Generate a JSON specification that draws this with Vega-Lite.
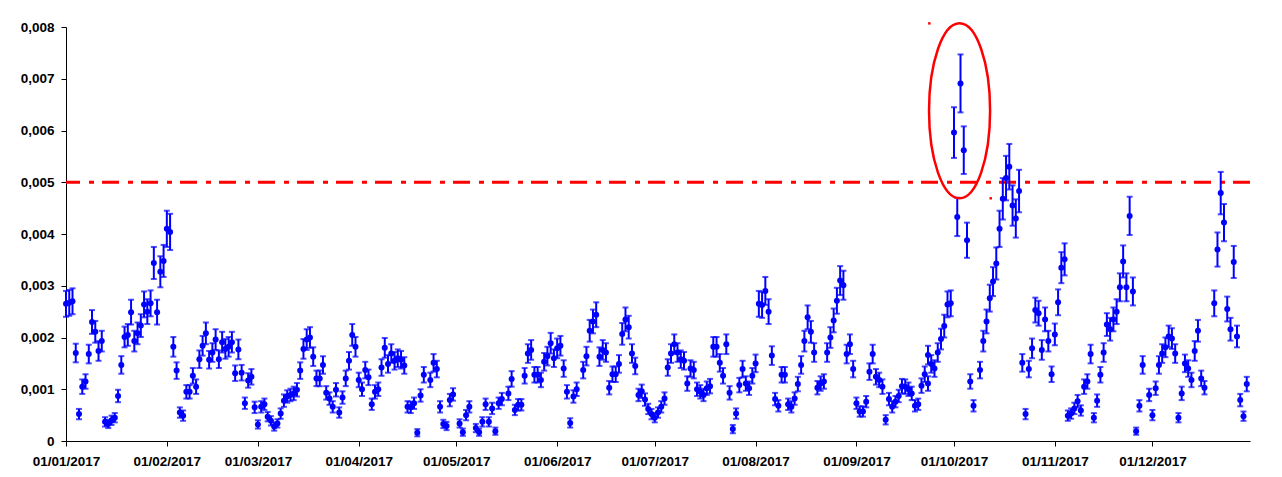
{
  "$schema": "https://vega.github.io/schema/vega-lite/v6.json",
  "width": 1184,
  "height": 414,
  "autosize": {"type": "none"},
  "padding": {"left": 66, "top": 27, "right": 32, "bottom": 36},
  "background": "white",
  "config": {
    "view": {"stroke": null},
    "axis": {
      "grid": false,
      "labelFont": "Liberation Sans",
      "labelFontWeight": "bold",
      "labelFontSize": 13.5,
      "labelColor": "#000000",
      "domainColor": "#000000",
      "domainWidth": 1,
      "tickColor": "#000000",
      "tickWidth": 1,
      "tickSize": 5
    },
    "axisX": {
      "labelExpr": "utcFormat(datum.value, '%d/%m/%Y')",
      "labelPadding": 8,
      "labelOverlap": false,
      "labelFlush": false
    }
  },
  "datasets": {
    "obs": [
      {"d":"2017-01-01","v":0.00265,"e":0.00025},
      {"d":"2017-01-02","v":0.00267,"e":0.00025},
      {"d":"2017-01-03","v":0.00270,"e":0.00025},
      {"d":"2017-01-04","v":0.00170,"e":0.00018},
      {"d":"2017-01-05","v":0.00052,"e":0.00010},
      {"d":"2017-01-06","v":0.00105,"e":0.00014},
      {"d":"2017-01-07","v":0.00115,"e":0.00014},
      {"d":"2017-01-08","v":0.00168,"e":0.00018},
      {"d":"2017-01-09","v":0.00230,"e":0.00023},
      {"d":"2017-01-10","v":0.00211,"e":0.00021},
      {"d":"2017-01-11","v":0.00174,"e":0.00019},
      {"d":"2017-01-12","v":0.00193,"e":0.00020},
      {"d":"2017-01-13","v":0.00037,"e":0.00009},
      {"d":"2017-01-14","v":0.00033,"e":0.00008},
      {"d":"2017-01-15","v":0.00040,"e":0.00009},
      {"d":"2017-01-16","v":0.00045,"e":0.00009},
      {"d":"2017-01-17","v":0.00087,"e":0.00012},
      {"d":"2017-01-18","v":0.00147,"e":0.00017},
      {"d":"2017-01-19","v":0.00201,"e":0.00020},
      {"d":"2017-01-20","v":0.00205,"e":0.00021},
      {"d":"2017-01-21","v":0.00249,"e":0.00024},
      {"d":"2017-01-22","v":0.00193,"e":0.00020},
      {"d":"2017-01-23","v":0.00208,"e":0.00021},
      {"d":"2017-01-24","v":0.00223,"e":0.00022},
      {"d":"2017-01-25","v":0.00264,"e":0.00025},
      {"d":"2017-01-26","v":0.00250,"e":0.00024},
      {"d":"2017-01-27","v":0.00266,"e":0.00025},
      {"d":"2017-01-28","v":0.00344,"e":0.00031},
      {"d":"2017-01-29","v":0.00249,"e":0.00024},
      {"d":"2017-01-30","v":0.00327,"e":0.00030},
      {"d":"2017-01-31","v":0.00348,"e":0.00031},
      {"d":"2017-02-01","v":0.00410,"e":0.00035},
      {"d":"2017-02-02","v":0.00404,"e":0.00035},
      {"d":"2017-02-03","v":0.00182,"e":0.00019},
      {"d":"2017-02-04","v":0.00136,"e":0.00016},
      {"d":"2017-02-05","v":0.00055,"e":0.00010},
      {"d":"2017-02-06","v":0.00049,"e":0.00010},
      {"d":"2017-02-07","v":0.00095,"e":0.00013},
      {"d":"2017-02-08","v":0.00095,"e":0.00013},
      {"d":"2017-02-09","v":0.00126,"e":0.00015},
      {"d":"2017-02-10","v":0.00105,"e":0.00014},
      {"d":"2017-02-11","v":0.00158,"e":0.00017},
      {"d":"2017-02-12","v":0.00184,"e":0.00019},
      {"d":"2017-02-13","v":0.00208,"e":0.00021},
      {"d":"2017-02-14","v":0.00157,"e":0.00017},
      {"d":"2017-02-15","v":0.00171,"e":0.00018},
      {"d":"2017-02-16","v":0.00196,"e":0.00020},
      {"d":"2017-02-17","v":0.00158,"e":0.00017},
      {"d":"2017-02-18","v":0.00191,"e":0.00020},
      {"d":"2017-02-19","v":0.00178,"e":0.00019},
      {"d":"2017-02-20","v":0.00182,"e":0.00019},
      {"d":"2017-02-21","v":0.00191,"e":0.00020},
      {"d":"2017-02-22","v":0.00131,"e":0.00015},
      {"d":"2017-02-23","v":0.00177,"e":0.00019},
      {"d":"2017-02-24","v":0.00132,"e":0.00015},
      {"d":"2017-02-25","v":0.00073,"e":0.00011},
      {"d":"2017-02-26","v":0.00117,"e":0.00014},
      {"d":"2017-02-27","v":0.00124,"e":0.00015},
      {"d":"2017-02-28","v":0.00065,"e":0.00011},
      {"d":"2017-03-01","v":0.00032,"e":0.00008},
      {"d":"2017-03-02","v":0.00066,"e":0.00011},
      {"d":"2017-03-03","v":0.00071,"e":0.00011},
      {"d":"2017-03-04","v":0.00047,"e":0.00009},
      {"d":"2017-03-05","v":0.00039,"e":0.00009},
      {"d":"2017-03-06","v":0.00028,"e":0.00008},
      {"d":"2017-03-07","v":0.00034,"e":0.00008},
      {"d":"2017-03-08","v":0.00053,"e":0.00010},
      {"d":"2017-03-09","v":0.00078,"e":0.00012},
      {"d":"2017-03-10","v":0.00086,"e":0.00012},
      {"d":"2017-03-11","v":0.00089,"e":0.00012},
      {"d":"2017-03-12","v":0.00092,"e":0.00013},
      {"d":"2017-03-13","v":0.00099,"e":0.00013},
      {"d":"2017-03-14","v":0.00136,"e":0.00016},
      {"d":"2017-03-15","v":0.00178,"e":0.00019},
      {"d":"2017-03-16","v":0.00196,"e":0.00020},
      {"d":"2017-03-17","v":0.00200,"e":0.00020},
      {"d":"2017-03-18","v":0.00163,"e":0.00018},
      {"d":"2017-03-19","v":0.00121,"e":0.00015},
      {"d":"2017-03-20","v":0.00121,"e":0.00015},
      {"d":"2017-03-21","v":0.00147,"e":0.00017},
      {"d":"2017-03-22","v":0.00093,"e":0.00013},
      {"d":"2017-03-23","v":0.00082,"e":0.00012},
      {"d":"2017-03-24","v":0.00066,"e":0.00011},
      {"d":"2017-03-25","v":0.00099,"e":0.00013},
      {"d":"2017-03-26","v":0.00055,"e":0.00010},
      {"d":"2017-03-27","v":0.00084,"e":0.00012},
      {"d":"2017-03-28","v":0.00121,"e":0.00015},
      {"d":"2017-03-29","v":0.00155,"e":0.00017},
      {"d":"2017-03-30","v":0.00205,"e":0.00021},
      {"d":"2017-03-31","v":0.00182,"e":0.00019},
      {"d":"2017-04-01","v":0.00118,"e":0.00014},
      {"d":"2017-04-02","v":0.00100,"e":0.00013},
      {"d":"2017-04-03","v":0.00137,"e":0.00016},
      {"d":"2017-04-04","v":0.00123,"e":0.00015},
      {"d":"2017-04-05","v":0.00071,"e":0.00011},
      {"d":"2017-04-06","v":0.00095,"e":0.00013},
      {"d":"2017-04-07","v":0.00100,"e":0.00013},
      {"d":"2017-04-08","v":0.00142,"e":0.00016},
      {"d":"2017-04-09","v":0.00180,"e":0.00019},
      {"d":"2017-04-10","v":0.00149,"e":0.00017},
      {"d":"2017-04-11","v":0.00169,"e":0.00018},
      {"d":"2017-04-12","v":0.00155,"e":0.00017},
      {"d":"2017-04-13","v":0.00160,"e":0.00017},
      {"d":"2017-04-14","v":0.00157,"e":0.00017},
      {"d":"2017-04-15","v":0.00146,"e":0.00016},
      {"d":"2017-04-16","v":0.00066,"e":0.00011},
      {"d":"2017-04-17","v":0.00065,"e":0.00011},
      {"d":"2017-04-18","v":0.00073,"e":0.00011},
      {"d":"2017-04-19","v":0.00016,"e":0.00007},
      {"d":"2017-04-20","v":0.00088,"e":0.00012},
      {"d":"2017-04-21","v":0.00128,"e":0.00015},
      {"d":"2017-04-23","v":0.00118,"e":0.00014},
      {"d":"2017-04-24","v":0.00151,"e":0.00017},
      {"d":"2017-04-25","v":0.00139,"e":0.00016},
      {"d":"2017-04-26","v":0.00066,"e":0.00011},
      {"d":"2017-04-27","v":0.00033,"e":0.00008},
      {"d":"2017-04-28","v":0.00029,"e":0.00008},
      {"d":"2017-04-29","v":0.00079,"e":0.00012},
      {"d":"2017-04-30","v":0.00090,"e":0.00012},
      {"d":"2017-05-02","v":0.00034,"e":0.00008},
      {"d":"2017-05-03","v":0.00017,"e":0.00007},
      {"d":"2017-05-04","v":0.00050,"e":0.00010},
      {"d":"2017-05-05","v":0.00066,"e":0.00011},
      {"d":"2017-05-07","v":0.00025,"e":0.00008},
      {"d":"2017-05-08","v":0.00017,"e":0.00007},
      {"d":"2017-05-09","v":0.00037,"e":0.00009},
      {"d":"2017-05-10","v":0.00071,"e":0.00011},
      {"d":"2017-05-11","v":0.00037,"e":0.00009},
      {"d":"2017-05-12","v":0.00063,"e":0.00011},
      {"d":"2017-05-13","v":0.00019,"e":0.00007},
      {"d":"2017-05-14","v":0.00073,"e":0.00011},
      {"d":"2017-05-15","v":0.00081,"e":0.00012},
      {"d":"2017-05-17","v":0.00092,"e":0.00013},
      {"d":"2017-05-18","v":0.00120,"e":0.00015},
      {"d":"2017-05-19","v":0.00060,"e":0.00010},
      {"d":"2017-05-20","v":0.00070,"e":0.00011},
      {"d":"2017-05-21","v":0.00070,"e":0.00011},
      {"d":"2017-05-22","v":0.00126,"e":0.00015},
      {"d":"2017-05-23","v":0.00169,"e":0.00018},
      {"d":"2017-05-24","v":0.00176,"e":0.00019},
      {"d":"2017-05-25","v":0.00128,"e":0.00015},
      {"d":"2017-05-26","v":0.00128,"e":0.00015},
      {"d":"2017-05-27","v":0.00118,"e":0.00014},
      {"d":"2017-05-28","v":0.00153,"e":0.00017},
      {"d":"2017-05-29","v":0.00164,"e":0.00018},
      {"d":"2017-05-30","v":0.00189,"e":0.00020},
      {"d":"2017-05-31","v":0.00160,"e":0.00017},
      {"d":"2017-06-01","v":0.00179,"e":0.00019},
      {"d":"2017-06-02","v":0.00184,"e":0.00019},
      {"d":"2017-06-03","v":0.00140,"e":0.00016},
      {"d":"2017-06-04","v":0.00095,"e":0.00013},
      {"d":"2017-06-05","v":0.00035,"e":0.00009},
      {"d":"2017-06-06","v":0.00086,"e":0.00012},
      {"d":"2017-06-07","v":0.00100,"e":0.00013},
      {"d":"2017-06-09","v":0.00137,"e":0.00016},
      {"d":"2017-06-10","v":0.00164,"e":0.00018},
      {"d":"2017-06-11","v":0.00213,"e":0.00021},
      {"d":"2017-06-12","v":0.00231,"e":0.00023},
      {"d":"2017-06-13","v":0.00244,"e":0.00024},
      {"d":"2017-06-14","v":0.00163,"e":0.00018},
      {"d":"2017-06-15","v":0.00176,"e":0.00019},
      {"d":"2017-06-16","v":0.00171,"e":0.00018},
      {"d":"2017-06-17","v":0.00103,"e":0.00013},
      {"d":"2017-06-18","v":0.00129,"e":0.00015},
      {"d":"2017-06-19","v":0.00129,"e":0.00015},
      {"d":"2017-06-20","v":0.00149,"e":0.00017},
      {"d":"2017-06-21","v":0.00207,"e":0.00021},
      {"d":"2017-06-22","v":0.00235,"e":0.00023},
      {"d":"2017-06-23","v":0.00220,"e":0.00022},
      {"d":"2017-06-24","v":0.00169,"e":0.00018},
      {"d":"2017-06-25","v":0.00145,"e":0.00016},
      {"d":"2017-06-26","v":0.00089,"e":0.00012},
      {"d":"2017-06-27","v":0.00096,"e":0.00013},
      {"d":"2017-06-28","v":0.00080,"e":0.00012},
      {"d":"2017-06-29","v":0.00062,"e":0.00010},
      {"d":"2017-06-30","v":0.00052,"e":0.00010},
      {"d":"2017-07-01","v":0.00045,"e":0.00009},
      {"d":"2017-07-02","v":0.00055,"e":0.00010},
      {"d":"2017-07-03","v":0.00066,"e":0.00011},
      {"d":"2017-07-04","v":0.00082,"e":0.00012},
      {"d":"2017-07-05","v":0.00142,"e":0.00016},
      {"d":"2017-07-06","v":0.00169,"e":0.00018},
      {"d":"2017-07-07","v":0.00187,"e":0.00019},
      {"d":"2017-07-08","v":0.00171,"e":0.00018},
      {"d":"2017-07-09","v":0.00158,"e":0.00017},
      {"d":"2017-07-10","v":0.00155,"e":0.00017},
      {"d":"2017-07-11","v":0.00111,"e":0.00014},
      {"d":"2017-07-12","v":0.00140,"e":0.00016},
      {"d":"2017-07-13","v":0.00137,"e":0.00016},
      {"d":"2017-07-14","v":0.00100,"e":0.00013},
      {"d":"2017-07-15","v":0.00095,"e":0.00013},
      {"d":"2017-07-16","v":0.00089,"e":0.00012},
      {"d":"2017-07-17","v":0.00102,"e":0.00013},
      {"d":"2017-07-18","v":0.00106,"e":0.00014},
      {"d":"2017-07-19","v":0.00182,"e":0.00019},
      {"d":"2017-07-20","v":0.00182,"e":0.00019},
      {"d":"2017-07-21","v":0.00151,"e":0.00017},
      {"d":"2017-07-22","v":0.00126,"e":0.00015},
      {"d":"2017-07-23","v":0.00187,"e":0.00019},
      {"d":"2017-07-24","v":0.00093,"e":0.00013},
      {"d":"2017-07-25","v":0.00023,"e":0.00008},
      {"d":"2017-07-26","v":0.00053,"e":0.00010},
      {"d":"2017-07-27","v":0.00108,"e":0.00014},
      {"d":"2017-07-28","v":0.00139,"e":0.00016},
      {"d":"2017-07-29","v":0.00111,"e":0.00014},
      {"d":"2017-07-30","v":0.00102,"e":0.00013},
      {"d":"2017-07-31","v":0.00126,"e":0.00015},
      {"d":"2017-08-01","v":0.00150,"e":0.00017},
      {"d":"2017-08-02","v":0.00265,"e":0.00025},
      {"d":"2017-08-03","v":0.00263,"e":0.00025},
      {"d":"2017-08-04","v":0.00290,"e":0.00027},
      {"d":"2017-08-05","v":0.00250,"e":0.00024},
      {"d":"2017-08-06","v":0.00165,"e":0.00018},
      {"d":"2017-08-07","v":0.00081,"e":0.00012},
      {"d":"2017-08-08","v":0.00068,"e":0.00011},
      {"d":"2017-08-09","v":0.00128,"e":0.00015},
      {"d":"2017-08-10","v":0.00128,"e":0.00015},
      {"d":"2017-08-11","v":0.00071,"e":0.00011},
      {"d":"2017-08-12","v":0.00066,"e":0.00011},
      {"d":"2017-08-13","v":0.00082,"e":0.00012},
      {"d":"2017-08-14","v":0.00110,"e":0.00014},
      {"d":"2017-08-15","v":0.00147,"e":0.00017},
      {"d":"2017-08-16","v":0.00193,"e":0.00020},
      {"d":"2017-08-17","v":0.00239,"e":0.00023},
      {"d":"2017-08-18","v":0.00211,"e":0.00021},
      {"d":"2017-08-19","v":0.00171,"e":0.00018},
      {"d":"2017-08-20","v":0.00103,"e":0.00013},
      {"d":"2017-08-21","v":0.00111,"e":0.00014},
      {"d":"2017-08-22","v":0.00115,"e":0.00014},
      {"d":"2017-08-23","v":0.00171,"e":0.00018},
      {"d":"2017-08-24","v":0.00200,"e":0.00020},
      {"d":"2017-08-25","v":0.00233,"e":0.00023},
      {"d":"2017-08-26","v":0.00271,"e":0.00025},
      {"d":"2017-08-27","v":0.00310,"e":0.00028},
      {"d":"2017-08-28","v":0.00301,"e":0.00028},
      {"d":"2017-08-29","v":0.00168,"e":0.00018},
      {"d":"2017-08-30","v":0.00187,"e":0.00019},
      {"d":"2017-08-31","v":0.00139,"e":0.00016},
      {"d":"2017-09-01","v":0.00073,"e":0.00011},
      {"d":"2017-09-02","v":0.00057,"e":0.00010},
      {"d":"2017-09-03","v":0.00057,"e":0.00010},
      {"d":"2017-09-04","v":0.00076,"e":0.00011},
      {"d":"2017-09-05","v":0.00134,"e":0.00016},
      {"d":"2017-09-06","v":0.00168,"e":0.00018},
      {"d":"2017-09-07","v":0.00124,"e":0.00015},
      {"d":"2017-09-08","v":0.00118,"e":0.00014},
      {"d":"2017-09-09","v":0.00105,"e":0.00014},
      {"d":"2017-09-10","v":0.00041,"e":0.00009},
      {"d":"2017-09-11","v":0.00081,"e":0.00012},
      {"d":"2017-09-12","v":0.00066,"e":0.00011},
      {"d":"2017-09-13","v":0.00076,"e":0.00011},
      {"d":"2017-09-14","v":0.00087,"e":0.00012},
      {"d":"2017-09-15","v":0.00106,"e":0.00014},
      {"d":"2017-09-16","v":0.00105,"e":0.00014},
      {"d":"2017-09-17","v":0.00100,"e":0.00013},
      {"d":"2017-09-18","v":0.00092,"e":0.00013},
      {"d":"2017-09-19","v":0.00068,"e":0.00011},
      {"d":"2017-09-20","v":0.00071,"e":0.00011},
      {"d":"2017-09-21","v":0.00107,"e":0.00014},
      {"d":"2017-09-22","v":0.00129,"e":0.00015},
      {"d":"2017-09-23","v":0.00166,"e":0.00018},
      {"d":"2017-09-23","v":0.00111,"e":0.00014},
      {"d":"2017-09-24","v":0.00149,"e":0.00017},
      {"d":"2017-09-25","v":0.00140,"e":0.00016},
      {"d":"2017-09-26","v":0.00171,"e":0.00018},
      {"d":"2017-09-27","v":0.00197,"e":0.00020},
      {"d":"2017-09-28","v":0.00222,"e":0.00022},
      {"d":"2017-09-29","v":0.00264,"e":0.00025},
      {"d":"2017-09-30","v":0.00266,"e":0.00025},
      {"d":"2017-10-01","v":0.00596,"e":0.00049},
      {"d":"2017-10-02","v":0.00433,"e":0.00037},
      {"d":"2017-10-03","v":0.00691,"e":0.00056},
      {"d":"2017-10-04","v":0.00562,"e":0.00046},
      {"d":"2017-10-05","v":0.00388,"e":0.00034},
      {"d":"2017-10-06","v":0.00115,"e":0.00014},
      {"d":"2017-10-07","v":0.00068,"e":0.00011},
      {"d":"2017-10-09","v":0.00137,"e":0.00016},
      {"d":"2017-10-10","v":0.00193,"e":0.00020},
      {"d":"2017-10-11","v":0.00231,"e":0.00023},
      {"d":"2017-10-12","v":0.00276,"e":0.00026},
      {"d":"2017-10-13","v":0.00308,"e":0.00028},
      {"d":"2017-10-14","v":0.00343,"e":0.00031},
      {"d":"2017-10-15","v":0.00410,"e":0.00035},
      {"d":"2017-10-16","v":0.00468,"e":0.00040},
      {"d":"2017-10-17","v":0.00508,"e":0.00043},
      {"d":"2017-10-18","v":0.00530,"e":0.00044},
      {"d":"2017-10-19","v":0.00455,"e":0.00039},
      {"d":"2017-10-20","v":0.00430,"e":0.00037},
      {"d":"2017-10-21","v":0.00483,"e":0.00041},
      {"d":"2017-10-22","v":0.00151,"e":0.00017},
      {"d":"2017-10-23","v":0.00052,"e":0.00010},
      {"d":"2017-10-24","v":0.00139,"e":0.00016},
      {"d":"2017-10-25","v":0.00179,"e":0.00019},
      {"d":"2017-10-26","v":0.00253,"e":0.00024},
      {"d":"2017-10-27","v":0.00247,"e":0.00024},
      {"d":"2017-10-28","v":0.00176,"e":0.00019},
      {"d":"2017-10-29","v":0.00235,"e":0.00023},
      {"d":"2017-10-30","v":0.00193,"e":0.00020},
      {"d":"2017-10-31","v":0.00129,"e":0.00015},
      {"d":"2017-11-01","v":0.00206,"e":0.00021},
      {"d":"2017-11-02","v":0.00268,"e":0.00025},
      {"d":"2017-11-03","v":0.00335,"e":0.00030},
      {"d":"2017-11-04","v":0.00351,"e":0.00031},
      {"d":"2017-11-05","v":0.00049,"e":0.00010},
      {"d":"2017-11-06","v":0.00053,"e":0.00010},
      {"d":"2017-11-07","v":0.00063,"e":0.00011},
      {"d":"2017-11-08","v":0.00077,"e":0.00012},
      {"d":"2017-11-09","v":0.00059,"e":0.00010},
      {"d":"2017-11-10","v":0.00105,"e":0.00014},
      {"d":"2017-11-11","v":0.00115,"e":0.00014},
      {"d":"2017-11-12","v":0.00168,"e":0.00018},
      {"d":"2017-11-13","v":0.00045,"e":0.00009},
      {"d":"2017-11-14","v":0.00078,"e":0.00012},
      {"d":"2017-11-15","v":0.00128,"e":0.00015},
      {"d":"2017-11-16","v":0.00171,"e":0.00018},
      {"d":"2017-11-17","v":0.00225,"e":0.00022},
      {"d":"2017-11-18","v":0.00216,"e":0.00022},
      {"d":"2017-11-19","v":0.00235,"e":0.00023},
      {"d":"2017-11-20","v":0.00250,"e":0.00024},
      {"d":"2017-11-21","v":0.00297,"e":0.00027},
      {"d":"2017-11-22","v":0.00347,"e":0.00031},
      {"d":"2017-11-23","v":0.00297,"e":0.00027},
      {"d":"2017-11-24","v":0.00435,"e":0.00037},
      {"d":"2017-11-25","v":0.00289,"e":0.00027},
      {"d":"2017-11-26","v":0.00019,"e":0.00007},
      {"d":"2017-11-27","v":0.00068,"e":0.00011},
      {"d":"2017-11-28","v":0.00147,"e":0.00017},
      {"d":"2017-11-30","v":0.00089,"e":0.00012},
      {"d":"2017-12-01","v":0.00050,"e":0.00010},
      {"d":"2017-12-02","v":0.00102,"e":0.00013},
      {"d":"2017-12-03","v":0.00147,"e":0.00017},
      {"d":"2017-12-04","v":0.00169,"e":0.00018},
      {"d":"2017-12-05","v":0.00181,"e":0.00019},
      {"d":"2017-12-06","v":0.00202,"e":0.00021},
      {"d":"2017-12-07","v":0.00198,"e":0.00020},
      {"d":"2017-12-08","v":0.00169,"e":0.00018},
      {"d":"2017-12-09","v":0.00045,"e":0.00009},
      {"d":"2017-12-10","v":0.00092,"e":0.00013},
      {"d":"2017-12-11","v":0.00150,"e":0.00017},
      {"d":"2017-12-12","v":0.00140,"e":0.00016},
      {"d":"2017-12-13","v":0.00118,"e":0.00014},
      {"d":"2017-12-14","v":0.00174,"e":0.00019},
      {"d":"2017-12-15","v":0.00213,"e":0.00021},
      {"d":"2017-12-16","v":0.00121,"e":0.00015},
      {"d":"2017-12-17","v":0.00103,"e":0.00013},
      {"d":"2017-12-20","v":0.00266,"e":0.00025},
      {"d":"2017-12-21","v":0.00370,"e":0.00033},
      {"d":"2017-12-22","v":0.00479,"e":0.00041},
      {"d":"2017-12-23","v":0.00422,"e":0.00036},
      {"d":"2017-12-24","v":0.00255,"e":0.00024},
      {"d":"2017-12-25","v":0.00216,"e":0.00022},
      {"d":"2017-12-26","v":0.00346,"e":0.00031},
      {"d":"2017-12-27","v":0.00202,"e":0.00021},
      {"d":"2017-12-28","v":0.00079,"e":0.00012},
      {"d":"2017-12-29","v":0.00048,"e":0.00009},
      {"d":"2017-12-30","v":0.00110,"e":0.00014}
    ],
    "limit": [{"v": 0.005}],
    "ellipse": [{"d": "2017-10-02T17:00:00Z", "v": 0.00638}],
    "handles": [
      {"d": "2017-09-23T10:00:00Z", "v": 0.00807},
      {"d": "2017-10-12T07:00:00Z", "v": 0.00469}
    ]
  },
  "layer": [
    {
      "data": {"name": "limit"},
      "mark": {"type": "rule", "color": "#FF0000", "strokeWidth": 3, "strokeDash": [17, 8, 5, 9]},
      "encoding": {
        "y": {
          "field": "v", "type": "quantitative", "title": null,
          "scale": {"domain": [0, 0.008], "nice": false, "zero": true},
          "axis": {
            "title": null,
            "values": [0, 0.001, 0.002, 0.003, 0.004, 0.005, 0.006, 0.007, 0.008],
            "labelExpr": "datum.value == 0 ? '0' : replace(format(datum.value, '.3f'), '.', ',')",
            "labelPadding": 7
          }
        }
      }
    },
    {
      "data": {"name": "obs"},
      "mark": {"type": "errorbar", "color": "#0000FF", "thickness": 2, "ticks": {"size": 6, "thickness": 2, "color": "#0000FF"}},
      "encoding": {
        "x": {
          "field": "d", "type": "temporal", "title": null,
          "scale": {"type": "utc", "domain": ["2017-01-01", "2017-12-31"], "nice": false},
          "axis": {
            "title": null,
            "values": [
              {"year": 2017, "month": 1, "date": 1, "utc": true},
              {"year": 2017, "month": 2, "date": 1, "utc": true},
              {"year": 2017, "month": 3, "date": 1, "utc": true},
              {"year": 2017, "month": 4, "date": 1, "utc": true},
              {"year": 2017, "month": 5, "date": 1, "utc": true},
              {"year": 2017, "month": 6, "date": 1, "utc": true},
              {"year": 2017, "month": 7, "date": 1, "utc": true},
              {"year": 2017, "month": 8, "date": 1, "utc": true},
              {"year": 2017, "month": 9, "date": 1, "utc": true},
              {"year": 2017, "month": 10, "date": 1, "utc": true},
              {"year": 2017, "month": 11, "date": 1, "utc": true},
              {"year": 2017, "month": 12, "date": 1, "utc": true}
            ],
            "labelExpr": "utcFormat(datum.value, '%d/%m/%Y')",
            "labelPadding": 8,
            "labelOverlap": false,
            "labelFlush": false
          }
        },
        "y": {"field": "v", "type": "quantitative", "title": null},
        "yError": {"field": "e"}
      }
    },
    {
      "data": {"name": "obs"},
      "mark": {"type": "point", "shape": "circle", "filled": true, "size": 36, "color": "#0000FF", "opacity": 1},
      "encoding": {
        "x": {
          "field": "d", "type": "temporal", "title": null,
          "axis": {"title": null, "labelExpr": "utcFormat(datum.value, '%d/%m/%Y')"}
        },
        "y": {"field": "v", "type": "quantitative", "title": null}
      }
    },
    {
      "data": {"name": "ellipse"},
      "mark": {"type": "point", "shape": "M -0.349 0 A 0.349 1 0 1 1 0.349 0 A 0.349 1 0 1 1 -0.349 0 Z", "filled": false, "size": 30625, "stroke": "#FF0000", "strokeWidth": 2.5, "opacity": 1},
      "encoding": {
        "x": {"field": "d", "type": "temporal", "title": null},
        "y": {"field": "v", "type": "quantitative", "title": null}
      }
    },
    {
      "data": {"name": "handles"},
      "mark": {"type": "point", "shape": "square", "filled": true, "size": 6, "color": "#FF0000", "opacity": 1},
      "encoding": {
        "x": {"field": "d", "type": "temporal", "title": null},
        "y": {"field": "v", "type": "quantitative", "title": null}
      }
    }
  ]
}
